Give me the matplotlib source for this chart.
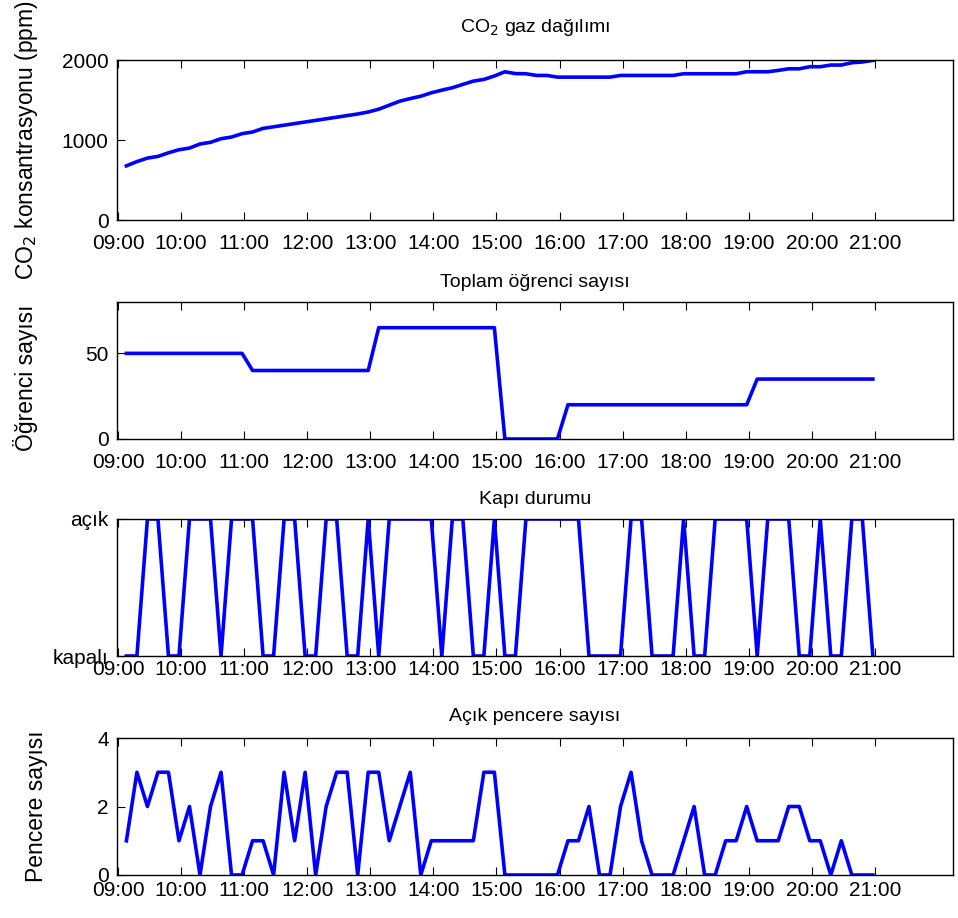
import numpy as np
import pandas as pd
import matplotlib
matplotlib.use("Agg")
import matplotlib.pyplot as plt

plt.rcParams['font.family'] = ['Liberation Sans', 'DejaVu Sans']
plt.rcParams['font.size'] = 14

# measurement times, every 10 minutes
times = pd.date_range("2000-01-01 09:08", periods=72, freq="10min")
hours = times.hour + times.minute / 60.0

co2 = [677, 730, 774, 795, 840, 878, 899, 950, 971, 1016, 1037, 1079,
       1100, 1145, 1165, 1185, 1205, 1225, 1245, 1265, 1285, 1305, 1325, 1350,
       1385, 1435, 1485, 1518, 1547, 1590, 1623, 1653, 1695, 1736, 1757, 1800,
       1853, 1830, 1828, 1807, 1807, 1786, 1786, 1786, 1786, 1786, 1786, 1807,
       1807, 1807, 1807, 1807, 1807, 1828, 1828, 1828, 1828, 1828, 1828, 1853,
       1853, 1853, 1870, 1890, 1890, 1916, 1916, 1937, 1937, 1966, 1975, 1995]

students = [50] * 12 + [40] * 12 + [65] * 12 + [0] * 6 + [20] * 18 + [35] * 12

door = [0, 0, 1, 1, 0, 0, 1, 1, 1, 0, 1, 1,
        1, 0, 0, 1, 1, 0, 0, 1, 1, 0, 0, 1,
        0, 1, 1, 1, 1, 1, 0, 1, 1, 0, 0, 1,
        0, 0, 1, 1, 1, 1, 1, 1, 0, 0, 0, 0,
        1, 1, 0, 0, 0, 1, 0, 0, 1, 1, 1, 1,
        0, 1, 1, 1, 0, 0, 1, 0, 0, 1, 1, 0]

windows = [1, 3, 2, 3, 3, 1, 2, 0, 2, 3, 0, 0,
           1, 1, 0, 3, 1, 3, 0, 2, 3, 3, 0, 3,
           3, 1, 2, 3, 0, 1, 1, 1, 1, 1, 3, 3,
           0, 0, 0, 0, 0, 0, 1, 1, 2, 0, 0, 2,
           3, 1, 0, 0, 0, 1, 2, 0, 0, 1, 1, 2,
           1, 1, 1, 2, 2, 1, 1, 0, 1, 0, 0, 0]

tick_hours = list(range(9, 22))
tick_labels = ["%02d:00" % h for h in tick_hours]

W, H = 958, 918
fig = plt.figure(figsize=(W / 100, H / 100), dpi=100)

left_px, right_px = 117, 953
px_per_hour = 63.08
x_lo = 9 - (118 - left_px) / px_per_hour
x_hi = 9 + (right_px - 118) / px_per_hour

tick_fs = 15
label_fs = 16.5
title_fs = 14


def add_panel(top, bottom, xpad):
    ax = fig.add_axes([left_px / W, 1 - bottom / H, (right_px - left_px) / W, (bottom - top) / H])
    ax.set_xlim(x_lo, x_hi)
    ax.set_xticks(tick_hours)
    ax.set_xticklabels(tick_labels)
    ax.tick_params(axis='both', direction='in', length=6, width=0.8, pad=6, labelsize=tick_fs)
    ax.tick_params(axis='x', top=True, pad=xpad)
    for s in ax.spines.values():
        s.set_linewidth(1.0)
    return ax


blue = (0, 0, 1)
lw = 2.6

ax1 = add_panel(60, 220, 10)
ax1.plot(hours, co2, color=blue, lw=lw)
ax1.set_ylim(0, 2000)
ax1.set_yticks([0, 1000, 2000])
ax1.set_title("CO$_2$ gaz dağılımı", fontsize=title_fs, pad=20)
ax1.set_ylabel("CO$_2$ konsantrasyonu (ppm)", fontsize=label_fs)
ax1.yaxis.set_label_coords(-0.092, 0.5)

ax2 = add_panel(302, 439, 10)
ax2.plot(hours, students, color=blue, lw=lw)
ax2.set_ylim(0, 80)
ax2.set_yticks([0, 50])
ax2.set_title("Toplam öğrenci sayısı", fontsize=title_fs, pad=11)
ax2.set_ylabel("Öğrenci sayısı", fontsize=label_fs)
ax2.yaxis.set_label_coords(-0.094, 0.45)

ax3 = add_panel(519, 656, 3)
ax3.plot(hours, door, color=blue, lw=lw)
ax3.set_ylim(0, 1)
ax3.set_yticks([0, 1])
ax3.set_yticklabels(["kapalı", "açık"])
ax3.set_title("Kapı durumu", fontsize=title_fs, pad=11)

ax4 = add_panel(738, 875, 4)
ax4.plot(hours, windows, color=blue, lw=lw)
ax4.set_ylim(0, 4)
ax4.set_yticks([0, 2, 4])
ax4.set_title("Açık pencere sayısı", fontsize=title_fs, pad=12)
ax4.set_ylabel("Pencere sayısı", fontsize=label_fs)
ax4.yaxis.set_label_coords(-0.082, 0.5)

fig.savefig("out.png", dpi=100)
